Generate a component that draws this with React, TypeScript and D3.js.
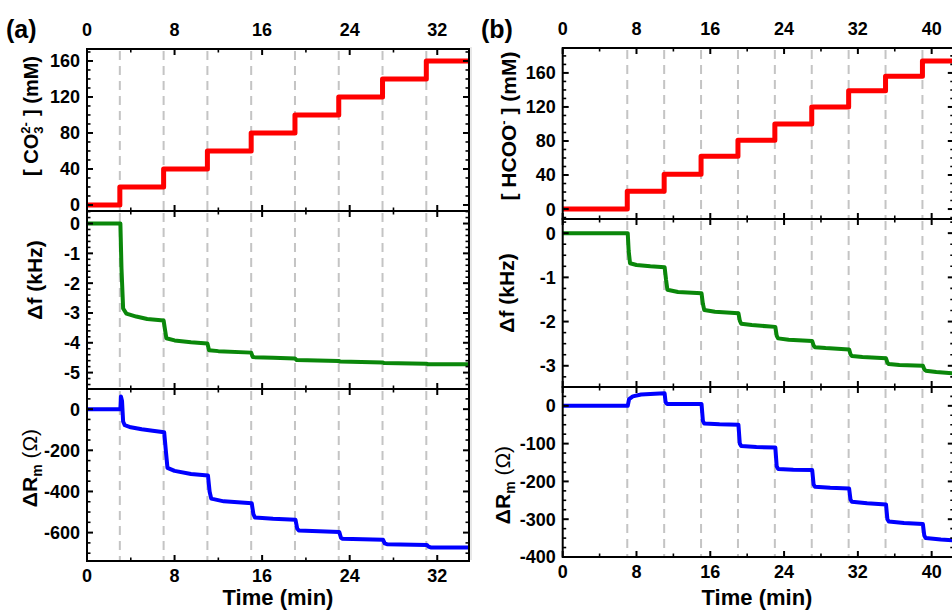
import React from 'react';
import * as d3 from 'd3';

// ---- panel (a): carbonate ----
const aStepTime = [0, 3, 7, 11, 15, 19, 23, 27, 31, 34.9];
const aConc = [0, 20, 40, 60, 80, 100, 120, 140, 160, 160];

const aFreqT = [0, 3.05, 3.15, 3.3, 3.6, 4.5, 5.5, 7.0, 7.1, 7.25, 8, 9.5, 11.0, 11.15, 12, 15.0, 15.15, 17, 19.0, 19.15, 23.0, 23.15, 27, 27.15, 31, 31.15, 34.9];
const aFreqV = [0, 0, -1.5, -2.85, -3.02, -3.12, -3.2, -3.25, -3.5, -3.85, -3.92, -3.98, -4.02, -4.25, -4.28, -4.33, -4.48, -4.5, -4.53, -4.58, -4.61, -4.63, -4.66, -4.68, -4.7, -4.72, -4.72];

const aResT = [0, 3.05, 3.1, 3.2, 3.3, 3.45, 4, 5, 6, 7.05, 7.2, 7.35, 8, 9.5, 11.05, 11.2, 11.35, 12.5, 15.05, 15.2, 15.35, 17, 19.05, 19.2, 19.35, 23.05, 23.2, 23.35, 27.05, 27.2, 27.4, 31.05, 31.2, 31.4, 34.9];
const aResV = [0, 0, 62, 40, -60, -78, -88, -98, -105, -112, -200, -285, -300, -315, -322, -400, -435, -448, -457, -510, -527, -533, -538, -580, -590, -597, -625, -630, -635, -652, -656, -660, -668, -672, -672];

const aInject = [3, 7, 11, 15, 19, 23, 27, 31];

// ---- panel (b): formate ----
const bStepTime = [0, 7, 11, 15, 19, 23, 27, 31, 35, 39, 42.4];
const bConc = [0, 21, 41, 62, 81, 100, 120, 139, 156, 174, 174];

const bFreqT = [0, 7.05, 7.15, 7.3, 8, 9.5, 11.05, 11.2, 11.35, 12.5, 15.05, 15.2, 15.35, 16.5, 19.05, 19.2, 19.35, 20.5, 23.05, 23.2, 23.35, 24.5, 27.05, 27.2, 27.35, 28.5, 31.05, 31.2, 31.35, 32.5, 35.05, 35.2, 35.35, 36.5, 39.05, 39.2, 39.35, 40.5, 42.4];
const bFreqV = [0, 0, -0.4, -0.68, -0.72, -0.75, -0.77, -1.05, -1.28, -1.33, -1.36, -1.6, -1.74, -1.78, -1.81, -1.98, -2.05, -2.08, -2.12, -2.32, -2.38, -2.41, -2.44, -2.54, -2.58, -2.6, -2.63, -2.74, -2.78, -2.8, -2.83, -2.93, -2.96, -2.98, -3.0, -3.08, -3.11, -3.14, -3.17];

const bResT = [0, 7.05, 7.2, 7.6, 8.5, 10, 11.05, 11.15, 11.3, 15.05, 15.2, 15.35, 17, 19.05, 19.2, 19.35, 21, 23.05, 23.2, 23.35, 25, 27.05, 27.2, 27.35, 29, 31.05, 31.2, 31.35, 33, 35.05, 35.2, 35.35, 37, 39.05, 39.2, 39.35, 41, 42.4];
const bResV = [0, 0, 18, 25, 30, 32, 33, 10, 5, 5, -40, -47, -49, -50, -100, -106, -109, -110, -160, -167, -169, -170, -208, -214, -217, -219, -248, -254, -258, -261, -300, -306, -310, -313, -343, -350, -354, -356];

const bInject = [7, 11, 15, 19, 23, 27, 31, 35, 39];

const FONT = "'Liberation Sans', Arial, sans-serif";

type PanelProps = {
  x: d3.ScaleLinear<number, number>;
  y: d3.ScaleLinear<number, number>;
  yMajor: number[];
  yMinor: number[];
  xMajor: number[];
  xMinor: number[];
  inject: number[];
  path: string;
  color: string;
  width: number;
  topLabels?: boolean;
  bottomLabels?: boolean;
};

function Panel({ x, y, yMajor, yMinor, xMajor, xMinor, inject, path, color, width, topLabels, bottomLabels }: PanelProps) {
  const [x0, x1] = x.range();
  const [y0, y1] = y.range(); // y0 bottom, y1 top
  const ticks: JSX.Element[] = [];
  const tk = (k: string, a: number, b: number, c: number, d: number, w: number) =>
    ticks.push(<line key={k} x1={a} y1={b} x2={c} y2={d} stroke="#000" strokeWidth={w} />);
  yMajor.forEach((v) => { const p = y(v); tk('ml' + v, x0, p, x0 + 6, p, 2); tk('mr' + v, x1, p, x1 - 6, p, 2); });
  yMinor.forEach((v) => { const p = y(v); tk('nl' + v, x0, p, x0 + 3.5, p, 1.6); tk('nr' + v, x1, p, x1 - 3.5, p, 1.6); });
  xMajor.forEach((v) => { const p = x(v); tk('xb' + v, p, y0, p, y0 - 6, 2); tk('xt' + v, p, y1, p, y1 + 6, 2); });
  xMinor.forEach((v) => { const p = x(v); tk('nb' + v, p, y0, p, y0 - 3.5, 1.6); tk('nt' + v, p, y1, p, y1 + 3.5, 1.6); });
  return (
    <g>
      {inject.map((t) => (
        <line key={'d' + t} x1={x(t)} x2={x(t)} y1={y1 + 2} y2={y0 - 1} stroke="#c4c4c4" strokeWidth={2} strokeDasharray="9,6" />
      ))}
      <path d={path} fill="none" stroke={color} strokeWidth={width} strokeLinejoin="round" />
      {ticks}
      <rect x={x0} y={y1} width={x1 - x0} height={y0 - y1} fill="none" stroke="#000" strokeWidth={2} />
      {yMajor.map((v) => (
        <text key={'yl' + v} x={x0 - 7} y={y(v)} dy="0.36em" textAnchor="end" fontSize={18} fontWeight="bold" fontFamily={FONT}>{v}</text>
      ))}
      {topLabels && xMajor.map((v) => (
        <text key={'tl' + v} x={x(v)} y={y1 - 13} textAnchor="middle" fontSize={18} fontWeight="bold" fontFamily={FONT}>{v}</text>
      ))}
      {bottomLabels && xMajor.map((v) => (
        <text key={'bl' + v} x={x(v)} y={y0 + 21} textAnchor="middle" fontSize={18} fontWeight="bold" fontFamily={FONT}>{v}</text>
      ))}
    </g>
  );
}

const range = (a: number, b: number, s: number) => d3.range(a, b + s / 2, s).map((v) => +v.toFixed(4));
const zip = (t: number[], v: number[]) => t.map((d, i) => [d, v[i]] as [number, number]);

export default function App() {
  // panel (a) scales
  const ax = d3.scaleLinear().domain([0, 34.9]).range([87, 469]);
  const aTop = d3.scaleLinear().domain([-6.7, 173.3]).range([211, 49]);
  const aMid = d3.scaleLinear().domain([-5.55, 0.42]).range([389, 211]);
  const aBot = d3.scaleLinear().domain([-738, 98]).range([561, 389]);
  // panel (b) scales
  const bx = d3.scaleLinear().domain([0, 42.4]).range([562.7, 953.8]);
  const bTop = d3.scaleLinear().domain([-11.7, 189.3]).range([219, 48]);
  const bMid = d3.scaleLinear().domain([-3.48, 0.32]).range([387, 219]);
  const bBot = d3.scaleLinear().domain([-400, 49.8]).range([557, 387]);

  const step = (x: any, y: any, t: number[], v: number[]) =>
    d3.line<[number, number]>().x((d) => x(d[0])).y((d) => y(d[1])).curve(d3.curveStepAfter)(zip(t, v)) || '';
  const lin = (x: any, y: any, t: number[], v: number[]) =>
    d3.line<[number, number]>().x((d) => x(d[0])).y((d) => y(d[1]))(zip(t, v)) || '';

  const axMaj = range(0, 32, 8);
  const axMin = range(4, 32, 8);
  const bxMaj = range(0, 40, 8);
  const bxMin = range(4, 40, 8);

  const title = (tx: number, ty: number, size: number, content: React.ReactNode, key: string) => (
    <text key={key} transform={`translate(${tx},${ty}) rotate(-90)`} textAnchor="middle" fontSize={size} fontWeight="bold" fontFamily={FONT}>{content}</text>
  );

  return (
    <svg width={952} height={612} style={{ position: 'absolute', left: 0, top: 0, background: '#fff' }}>
      <rect width={952} height={612} fill="#fff" />
      <line x1={471} x2={471} y1={47} y2={560} stroke="#d0d0d0" strokeWidth={1} />

      <Panel x={ax} y={aTop} yMajor={range(0, 160, 40)} yMinor={range(-0, 170, 10).filter((v) => v % 40 !== 0)}
        xMajor={axMaj} xMinor={axMin} inject={aInject} path={step(ax, aTop, aStepTime, aConc)} color="#ff0000" width={5} topLabels />
      <Panel x={ax} y={aMid} yMajor={range(-5, 0, 1)} yMinor={range(-5.4, 0.4, 0.2).filter((v) => Math.abs(v - Math.round(v)) > 0.01)}
        xMajor={axMaj} xMinor={axMin} inject={aInject} path={lin(ax, aMid, aFreqT, aFreqV)} color="#0a870a" width={4} />
      <Panel x={ax} y={aBot} yMajor={range(-600, 0, 200)} yMinor={range(-700, 50, 50).filter((v) => v % 200 !== 0)}
        xMajor={axMaj} xMinor={axMin} inject={aInject} path={lin(ax, aBot, aResT, aResV)} color="#0000ff" width={4} bottomLabels />

      <Panel x={bx} y={bTop} yMajor={range(0, 160, 40)} yMinor={range(-10, 180, 10).filter((v) => v % 40 !== 0)}
        xMajor={bxMaj} xMinor={bxMin} inject={bInject} path={step(bx, bTop, bStepTime, bConc)} color="#ff0000" width={5} topLabels />
      <Panel x={bx} y={bMid} yMajor={range(-3, 0, 1)} yMinor={range(-3.25, 0.25, 0.25).filter((v) => Math.abs(v - Math.round(v)) > 0.01)}
        xMajor={bxMaj} xMinor={bxMin} inject={bInject} path={lin(bx, bMid, bFreqT, bFreqV)} color="#0a870a" width={4} />
      <Panel x={bx} y={bBot} yMajor={range(-400, 0, 100)} yMinor={range(-375, 25, 25).filter((v) => v % 100 !== 0)}
        xMajor={bxMaj} xMinor={bxMin} inject={bInject} path={lin(bx, bBot, bResT, bResV)} color="#0000ff" width={4} bottomLabels />

      <text x={6} y={38} fontSize={25} fontWeight="bold" fontFamily={FONT}>(a)</text>
      <text x={481} y={38} fontSize={25} fontWeight="bold" fontFamily={FONT}>(b)</text>

      {title(38, 116, 20, (<>
        <tspan>[ CO</tspan>
        <tspan fontSize={13} dy={-8}>2-</tspan>
        <tspan fontSize={13} dx={-11.5} dy={13}>3</tspan>
        <tspan dx={5} dy={-5}> ] (mM)</tspan>
      </>), 'ta1')}
      {title(42, 280, 21, 'Δf (kHz)', 'ta2')}
      {title(37, 468, 21, (<>
        <tspan>ΔR</tspan>
        <tspan fontSize={14} dy={5}>m</tspan>
        <tspan dy={-5} fontWeight="normal"> (Ω)</tspan>
      </>), 'ta3')}

      {title(516, 126, 21, (<>
        <tspan>[ HCOO</tspan>
        <tspan fontSize={13} dy={-8}>-</tspan>
        <tspan dy={8}> ] (mM)</tspan>
      </>), 'tb1')}
      {title(514, 293, 21, 'Δf (kHz)', 'tb2')}
      {title(510, 485, 21, (<>
        <tspan>ΔR</tspan>
        <tspan fontSize={14} dy={5}>m</tspan>
        <tspan dy={-5} fontWeight="normal"> (Ω)</tspan>
      </>), 'tb3')}

      <text x={278} y={605} textAnchor="middle" fontSize={22} fontWeight="bold" fontFamily={FONT}>Time (min)</text>
      <text x={757} y={605} textAnchor="middle" fontSize={22} fontWeight="bold" fontFamily={FONT}>Time (min)</text>
    </svg>
  );
}
